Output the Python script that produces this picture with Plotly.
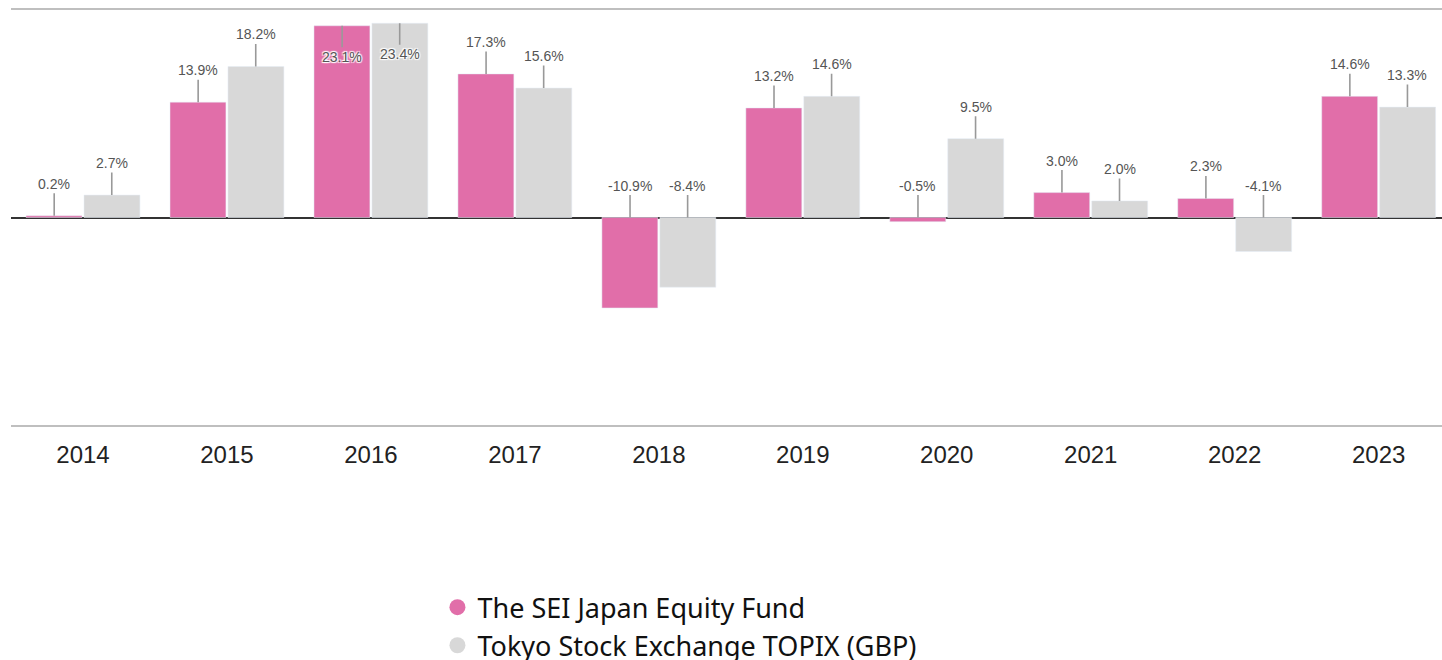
import plotly.graph_objects as go

years = ["2014", "2015", "2016", "2017", "2018", "2019", "2020", "2021", "2022", "2023"]
fund_name = "The SEI Japan Equity Fund"
index_name = "Tokyo Stock Exchange TOPIX (GBP)"
fund = [0.2, 13.9, 23.1, 17.3, -10.9, 13.2, -0.5, 3.0, 2.3, 14.6]
topix = [2.7, 18.2, 23.4, 15.6, -8.4, 14.6, 9.5, 2.0, -4.1, 13.3]

PINK = "#e16ea9"
GREY = "#d8d8d8"

fig = go.Figure()
fig.add_trace(go.Bar(x=years, y=fund, name=fund_name, marker_color=PINK,
                     showlegend=False, hoverinfo="skip"))
fig.add_trace(go.Bar(x=years, y=topix, name=index_name, marker_color=GREY,
                     showlegend=False, hoverinfo="skip"))
# legend entries with circle symbols
for nm, col in [(fund_name, PINK), (index_name, GREY)]:
    fig.add_trace(go.Scatter(x=[None], y=[None], mode="markers", name=nm,
                             marker=dict(symbol="circle", size=20, color=col)))

halo = "1px 1px 1px white, -1px -1px 1px white, 1px -1px 1px white, -1px 1px 1px white"
ymax = 25
annotations = []
for series, off in [(fund, -0.2), (topix, 0.2)]:
    for i, v in enumerate(series):
        base = max(v, 0)
        flip = v > ymax - 3
        annotations.append(dict(
            x=i + off, y=base, xref="x", yref="y",
            text=f"{v:.1f}%", showarrow=True, arrowhead=0, arrowwidth=1.6,
            arrowcolor="#999999", ax=0, ay=(31 if flip else -32),
            font=dict(family="Arial, Liberation Sans", size=14, color="#555555",
                      shadow=halo),
        ))

fig.update_layout(
    width=1442, height=660,
    margin=dict(l=11, r=0, t=10, b=235, autoexpand=False),
    paper_bgcolor="white", plot_bgcolor="white",
    barmode="group", bargap=0.195, bargroupgap=0.035,
    annotations=annotations,
    xaxis=dict(type="category", range=[-0.5, 9.44], showgrid=False, ticks="",
               tickfont=dict(family="Arial, Liberation Sans", size=24, color="#222222"),
               ticklabelstandoff=7, showline=True, mirror=True,
               linecolor="#bfbfbf", linewidth=2, zeroline=False),
    yaxis=dict(range=[-ymax, ymax], showticklabels=False, showgrid=False,
               zeroline=True, zerolinecolor="#333333", zerolinewidth=2,
               showline=False, fixedrange=True),
    legend=dict(orientation="v", x=0.298, xanchor="left", y=-0.381, yanchor="top",
                font=dict(family="Noto Sans", size=27, color="#111111"),
                bgcolor="rgba(0,0,0,0)", tracegroupgap=0, itemclick=False),
    showlegend=True,
)

fig.write_html("out.html")
